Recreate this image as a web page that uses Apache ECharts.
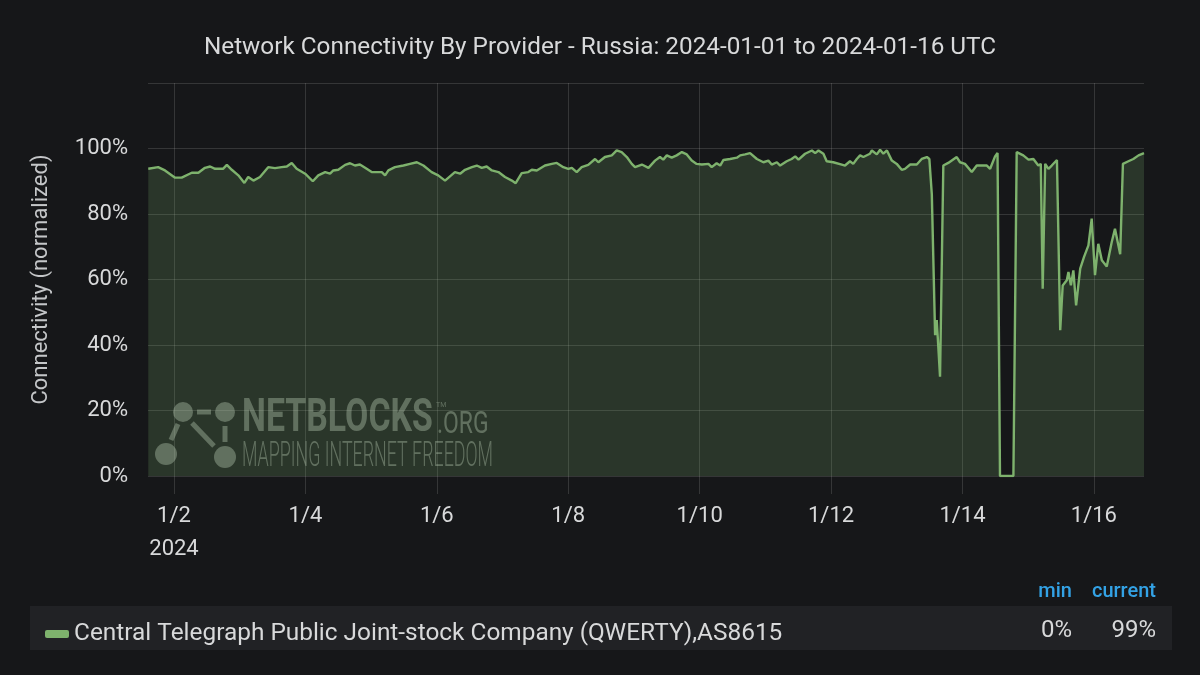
<!DOCTYPE html>
<html><head><meta charset="utf-8">
<script src="https://cdn.jsdelivr.net/npm/echarts@6/dist/echarts.min.js"></script>
<style>html,body{margin:0;padding:0;background:#161719;}#c{width:1200px;height:675px;}</style>
</head><body><div id="c"></div>
<script>
const titleText = 'Network Connectivity By Provider - Russia: 2024-01-01 to 2024-01-16 UTC';
const yAxisName = 'Connectivity (normalized)';
const seriesName = 'Central Telegraph Public Joint-stock Company (QWERTY),AS8615';
// hours since 2024-01-01 00:00 UTC
const hours = [14.6,18.2,20.7,24.4,26.8,30.5,32.9,35.3,37.2,39.0,41.9,43.3,45.1,47.5,49.7,51.1,53.0,55.4,58.4,60.9,63.3,65.2,67.0,68.8,71.9,74.7,76.7,79.2,81.0,82.2,84.0,86.5,88.3,90.1,91.9,93.8,96.2,99.9,101.1,102.3,104.7,107.8,110.2,112.7,115.1,118.1,120.5,123.0,124.8,126.6,128.5,130.3,132.8,134.6,136.4,138.2,140.1,142.5,144.9,147.4,148.8,151.0,153.4,154.7,156.5,159.5,162.0,163.8,166.2,168.0,169.3,171.1,172.9,175.3,177.8,179.0,181.4,183.9,185.7,187.5,189.4,191.2,192.4,194.9,197.3,199.7,201.5,202.7,204.0,205.8,207.6,209.5,211.3,213.1,214.9,216.8,219.2,220.4,222.2,223.5,224.7,227.1,229.6,230.8,232.6,234.4,236.9,239.3,241.1,242.3,244.2,245.4,247.8,249.6,250.9,252.1,254.5,257.0,258.2,259.4,261.2,262.4,264.8,267.9,269.1,270.9,272.1,273.4,274.6,275.8,278.2,278.9,280.7,281.9,283.1,284.4,286.2,288.0,289.8,291.0,292.9,295.3,297.1,299.0,299.9,300.8,302.0,302.6,303.8,305.0,306.8,309.9,311.1,312.9,315.4,317.2,320.9,322.1,323.9,324.8,325.7,330.6,331.8,334.2,336.1,337.9,339.7,340.6,341.3,342.2,343.4,344.6,346.5,347.7,348.6,350.1,350.7,351.6,352.5,353.5,355.0,356.4,358.0,359.2,360.4,361.6,362.9,364.7,366.5,367.7,369.6,370.6,372.6,374.4,376.3,378.3];
const connectivity = [93.8,94.3,93.3,91.1,91.1,92.6,92.6,94.1,94.5,93.8,93.8,95.0,93.5,91.8,89.5,91.3,90.2,91.3,94.3,94.0,94.3,94.5,95.6,93.8,92.3,90.0,91.8,92.8,92.3,93.3,93.5,95.0,95.5,94.8,95.1,94.1,92.8,92.8,91.8,93.3,94.3,94.8,95.3,95.8,94.8,92.8,91.8,90.2,91.5,92.8,92.3,93.5,94.3,94.8,94.1,94.5,93.3,92.8,91.3,90.2,89.4,92.5,92.8,93.5,93.3,94.8,95.3,95.6,94.3,93.8,94.1,92.8,94.3,95.0,96.8,95.8,97.4,97.9,99.4,98.9,97.4,95.3,94.3,95.1,94.1,96.3,97.4,96.6,97.9,97.2,97.9,98.9,98.2,96.3,95.3,95.1,95.3,94.3,95.5,94.8,96.5,96.8,97.2,97.9,98.2,98.6,96.8,95.8,96.3,95.1,95.8,94.8,96.1,96.8,97.6,96.6,98.4,99.4,98.6,99.4,98.4,96.1,95.8,95.1,94.8,96.1,95.3,96.8,97.9,97.4,98.4,99.4,98.2,99.6,98.4,99.4,96.3,95.3,93.5,93.8,95.1,95.1,96.8,97.4,96.8,86.0,43.0,47.6,30.3,94.8,95.6,97.4,95.8,95.3,92.8,94.8,94.8,93.8,97.6,98.6,0,0,98.9,97.9,96.6,96.8,94.8,95.3,57.2,95.3,93.8,94.8,96.5,44.5,58.2,59.8,62.3,58.2,62.8,52.1,63.3,66.9,70.4,78.6,61.3,70.9,65.9,64.0,71.4,75.5,67.7,95.3,96.1,96.8,97.9,98.6];
const xTickHours = [24,72,120,168,216,264,312,360];
const xMinHour = 14.5, xMaxHour = 378.3;
const yMax = 120;
const statHeaders = ['min', 'current'];

const minVal = Math.min.apply(null, connectivity);
const curVal = connectivity[connectivity.length - 1];
const seriesData = hours.map((h, i) => [h, connectivity[i]]);

const txt = '#d8d9da', grid = 'rgba(210,210,210,0.17)', green = '#7EB26D';
const wm = 'rgba(175,185,175,0.45)';
const chart = echarts.init(document.getElementById('c'), null, {renderer: 'canvas'});
chart.setOption({
  backgroundColor: '#161719',
  animation: false,
  textStyle: {fontFamily: 'Roboto'},
  title: {text: titleText, left: 'center', top: 31, textStyle: {color: txt, fontSize: 24.3, fontWeight: 'normal', fontFamily: 'Roboto'}},
  grid: {left: 148, right: 56, top: 83, bottom: 199, containLabel: false},
  legend: {left: 40, top: 617, itemWidth: 24, itemHeight: 8, icon: 'roundRect', data: [seriesName],
    textStyle: {color: txt, fontSize: 24.4, fontFamily: 'Roboto'}, selectedMode: false},
  xAxis: {type: 'value', min: xMinHour, max: xMaxHour,
    axisLine: {show: false},
    axisTick: {show: true, customValues: xTickHours, length: 18, lineStyle: {color: grid}},
    splitLine: {show: true, lineStyle: {color: grid, width: 1}},
    axisLabel: {customValues: xTickHours, color: txt, fontSize: 22, margin: 24, lineHeight: 33,
      formatter: v => { const d = Math.round(v / 24) + 1; return '1/' + d + (Math.round(v) === 24 ? '\n2024' : ''); }}},
  yAxis: {type: 'value', min: 0, max: yMax, interval: 20,
    name: yAxisName, nameLocation: 'middle', nameGap: 96,
    nameTextStyle: {color: '#c4c6c8', fontSize: 22, fontFamily: 'Roboto'},
    axisLine: {show: false}, axisTick: {show: false},
    splitLine: {lineStyle: {color: grid, width: 1}},
    axisLabel: {color: txt, fontSize: 22, margin: 20, formatter: v => v > 100 ? '' : v + '%'}},
  series: [{name: seriesName, type: 'line', data: seriesData, showSymbol: false, symbol: 'none',
    lineStyle: {color: green, width: 2.4}, itemStyle: {color: green},
    areaStyle: {color: green, opacity: 0.2}, z: 3}],
  graphic: [
    {type: 'rect', z: -10, shape: {x: 30, y: 606, width: 1142, height: 44}, style: {fill: '#212225'}},
    {type: 'text', x: 1072, y: 592, style: {text: statHeaders[0], fill: '#33a2e5', font: '500 20px Roboto', textAlign: 'right', textVerticalAlign: 'middle'}},
    {type: 'text', x: 1156, y: 592, style: {text: statHeaders[1], fill: '#33a2e5', font: '500 20px Roboto', textAlign: 'right', textVerticalAlign: 'middle'}},
    {type: 'text', x: 1072, y: 631, style: {text: Math.round(minVal) + '%', fill: txt, font: '24px Roboto', textAlign: 'right', textVerticalAlign: 'middle'}},
    {type: 'text', x: 1156, y: 631, style: {text: Math.round(curVal) + '%', fill: txt, font: '24px Roboto', textAlign: 'right', textVerticalAlign: 'middle'}},
    // watermark
    {type: 'group', z: 1, children: [
      {type: 'circle', shape: {cx: 183, cy: 412, r: 10}, style: {fill: wm}},
      {type: 'circle', shape: {cx: 225, cy: 412, r: 10}, style: {fill: wm}},
      {type: 'circle', shape: {cx: 166, cy: 454, r: 11}, style: {fill: wm}},
      {type: 'circle', shape: {cx: 225, cy: 457, r: 11}, style: {fill: wm}},
      {type: 'line', shape: {x1: 197, y1: 412, x2: 211, y2: 412}, style: {stroke: wm, lineWidth: 5}},
      {type: 'line', shape: {x1: 178, y1: 424, x2: 171, y2: 440}, style: {stroke: wm, lineWidth: 5}},
      {type: 'line', shape: {x1: 192, y1: 423, x2: 214, y2: 446}, style: {stroke: wm, lineWidth: 5}},
      {type: 'line', shape: {x1: 225, y1: 426, x2: 225, y2: 442}, style: {stroke: wm, lineWidth: 5}},
      {type: 'text', x: 242, y: 419, scaleX: 0.72, style: {text: 'NETBLOCKS', fill: wm, font: 'bold 47px Roboto', textAlign: 'left', textVerticalAlign: 'middle'}},
      {type: 'text', x: 436, y: 405, style: {text: 'TM', fill: wm, font: '7px Roboto', textAlign: 'left', textVerticalAlign: 'middle'}},
      {type: 'text', x: 437, y: 425, scaleX: 0.74, style: {text: '.ORG', fill: wm, font: '31px Roboto', textAlign: 'left', textVerticalAlign: 'middle'}},
      {type: 'text', x: 242, y: 457, scaleX: 0.51, style: {text: 'MAPPING INTERNET FREEDOM', fill: wm, font: '300 35px Roboto', textAlign: 'left', textVerticalAlign: 'middle'}}
    ]}
  ]
});
</script></body></html>
